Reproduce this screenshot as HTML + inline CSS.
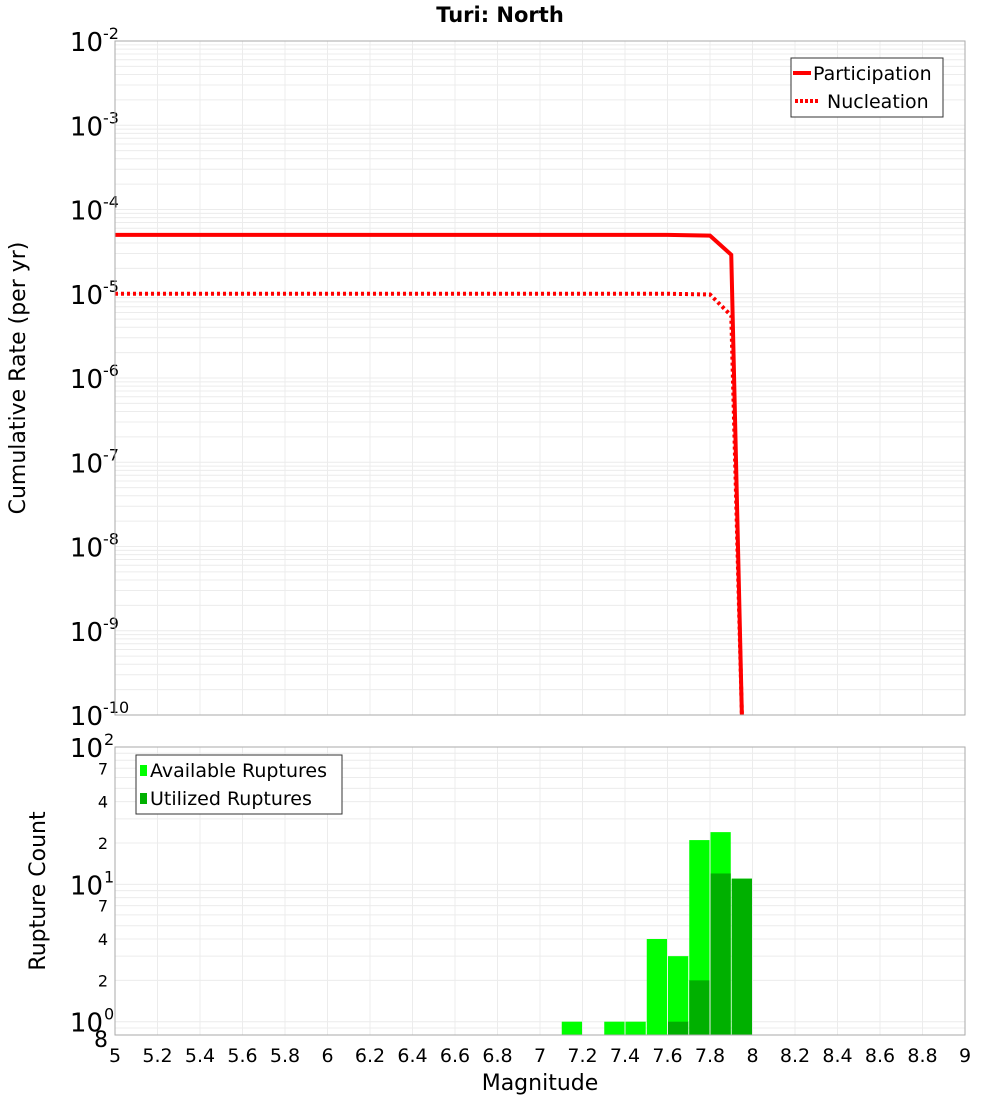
<!DOCTYPE html>
<html><head><meta charset="utf-8">
<style>
html,body{margin:0;padding:0;background:#fff;}
svg{display:block;font-family:"DejaVu Sans","Liberation Sans",sans-serif;}
</style></head>
<body>
<svg id="chart" width="1000" height="1100" viewBox="0 0 1000 1100" xmlns="http://www.w3.org/2000/svg">
<text x="500" y="22" text-anchor="middle" font-size="21" font-weight="bold">Turi: North</text>
<g id="topgroup"></g>
<g id="botgroup"></g>
<text x="540" y="1090" text-anchor="middle" font-size="22">Magnitude</text>
<text transform="translate(25,378) rotate(-90)" text-anchor="middle" font-size="22">Cumulative Rate (per yr)</text>
<text transform="translate(45,891) rotate(-90)" text-anchor="middle" font-size="22">Rupture Count</text>
</svg>
<script>
const partMags = [5.0, 7.6, 7.8, 7.9, 7.95];
const partRates = [5e-5, 5e-5, 4.9e-5, 2.9e-5, 1e-10];
const nuclMags = [5.0, 7.6, 7.8, 7.9, 7.95];
const nuclRates = [1e-5, 1e-5, 9.8e-6, 5.5e-6, 1e-10];
const binCenters = [7.15, 7.35, 7.45, 7.55, 7.65, 7.75, 7.85, 7.95];
const availCounts = [1, 1, 1, 4, 3, 21, 24, 11];
const usedCounts = [0, 0, 0, 0, 1, 2, 12, 11];
const xTicks = ["5","5.2","5.4","5.6","5.8","6","6.2","6.4","6.6","6.8","7","7.2","7.4","7.6","7.8","8","8.2","8.4","8.6","8.8","9"];
const topExps = [-2,-3,-4,-5,-6,-7,-8,-9,-10];

const NS="http://www.w3.org/2000/svg";
const L=115,R=965,T1=41,B1=715,T2=747,B2=1035;
const xs=m=>L+(m-5)/4*(R-L);
const y1=v=>B1-(Math.log10(v)+10)/8*(B1-T1);
const lmin=Math.log10(0.8),lmax=2;
const y2=v=>B2-(Math.log10(v)-lmin)/(lmax-lmin)*(B2-T2);
function el(tag,attrs,parent,text){const e=document.createElementNS(NS,tag);for(const k in attrs)e.setAttribute(k,attrs[k]);if(text!==undefined)e.textContent=text;parent.appendChild(e);return e;}
const topG=document.getElementById('topgroup'),botG=document.getElementById('botgroup');

for(let d=-10;d<-2;d++){for(let k=1;k<10;k++){const y=y1(k*Math.pow(10,d));
 const g=el('line',{x1:L,x2:R,y1:y,y2:y,stroke:'#ececec','stroke-width':1},topG);
 
 }}
for(let d=-1;d<=2;d++){for(let k=1;k<10;k++){const v=k*Math.pow(10,d);if(v<0.8||v>100)continue;const y=y2(v);
 const g=el('line',{x1:L,x2:R,y1:y,y2:y,stroke:'#ececec','stroke-width':1},botG);
 
 }}
xTicks.forEach((t,i)=>{const x=xs(parseFloat(t));
 const a=el('line',{x1:x,x2:x,y1:T1,y2:B1,stroke:'#ececec'},topG);
 
 
 const b=el('line',{x1:x,x2:x,y1:T2,y2:B2,stroke:'#ececec'},botG);
 
 
 const lb=el('text',{x:x,y:1062,'text-anchor':'middle','font-size':19},botG,t);
 
 
});
topExps.forEach(e=>{const y=y1(Math.pow(10,e));
 const t=el('text',{x:103,y:y+10,'text-anchor':'end','font-size':26},topG,'10');
 
 
 const s=el('text',{x:103,y:y-2,'font-size':16},topG,String(e));
 
 
});
function line(ms,rs,dash,name){let d='';ms.forEach((m,i)=>{d+=(i?'L':'M')+xs(m)+','+Math.min(y1(rs[i]),B1+3);});
 const p=el('path',{d:d,fill:'none',stroke:'#ff0000','stroke-width':4,'stroke-dasharray':dash},topG);
 
 }
line(partMags,partRates,'none','participation-line');
line(nuclMags,nuclRates,'3,3','nucleation-line');
const f1=el('rect',{x:L,y:T1,width:R-L,height:B1-T1,fill:'none',stroke:'#aaa'},topG);


const lg=el('g',{},topG);


el('rect',{x:791,y:58,width:152,height:59,fill:'#fff',stroke:'#333'},lg);
el('line',{x1:793,x2:811,y1:73,y2:73,stroke:'#f00','stroke-width':4},lg);
const t1=el('text',{x:813,y:80,'font-size':19},lg,'Participation');


el('line',{x1:795,x2:820,y1:101,y2:101,stroke:'#f00','stroke-width':4,'stroke-dasharray':'3,2'},lg);
const t2=el('text',{x:827,y:108,'font-size':19},lg,'Nucleation');



const bw=(R-L)/40;
binCenters.forEach((c,i)=>{const x0=xs(c)-bw/2+0.5;
 if(availCounts[i]>0){const y=y2(availCounts[i]);
  const r=el('rect',{x:x0,y:y,width:bw-1,height:B2-y,fill:'#00ff00'},botG);
  
  }
 if(usedCounts[i]>0){const y=y2(usedCounts[i]);
  const r=el('rect',{x:x0,y:y,width:bw-1,height:B2-y,fill:'#00b000'},botG);
  
  }
});
const f2=el('rect',{x:L,y:T2,width:R-L,height:B2-T2,fill:'none',stroke:'#aaa'},botG);


[[100,'2'],[10,'1'],[1,'0']].forEach(([v,e])=>{const y=y2(v);
 const t=el('text',{x:103,y:y+10,'text-anchor':'end','font-size':26},botG,'10');
 
 
 const s=el('text',{x:104,y:y-2,'font-size':16},botG,e);
 
 });
[[70,'7'],[40,'4'],[20,'2'],[7,'7'],[4,'4'],[2,'2'],[0.8,'8']].forEach(([v,s])=>{const y=y2(v);
 const t=el('text',{x:108,y:y+(v===0.8?12:6),'text-anchor':'end','font-size':v===0.8?22:16},botG,s);
 
 });
const lg2=el('g',{},botG);


el('rect',{x:136,y:755,width:206,height:59,fill:'#fff',stroke:'#333'},lg2);
el('rect',{x:140,y:765,width:7,height:11,fill:'#00ff00'},lg2);
const t3=el('text',{x:150,y:777,'font-size':19},lg2,'Available Ruptures');


el('rect',{x:140,y:793,width:7,height:11,fill:'#00b000'},lg2);
const t4=el('text',{x:150,y:805,'font-size':19},lg2,'Utilized Ruptures');


</script>
</body></html>
